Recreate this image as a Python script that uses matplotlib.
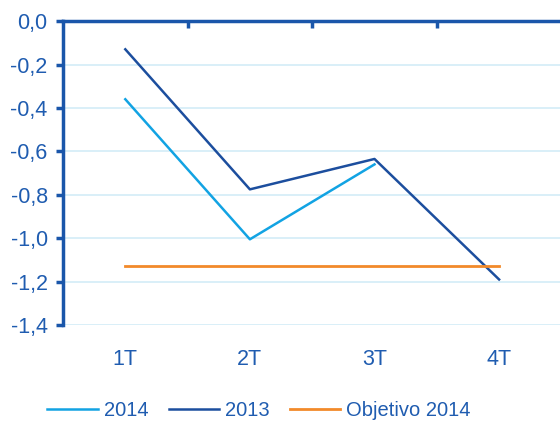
import matplotlib.pyplot as plt

plt.rcParams['font.family'] = ['Liberation Sans', 'DejaVu Sans']

quarters = ['1T', '2T', '3T', '4T']
serie_2014 = [-0.36, -1.005, -0.66]
serie_2013 = [-0.13, -0.775, -0.635, -1.19]
objetivo_2014 = [-1.13, -1.13, -1.13, -1.13]
yticks = [0.0, -0.2, -0.4, -0.6, -0.8, -1.0, -1.2, -1.4]

txt = '#1F5CB0'
axis_col = '#1A56AA'

fig = plt.figure(figsize=(5.6, 4.3), dpi=100)
ax = fig.add_axes([0.1125, 0.244, 0.89, 0.707])

x = list(range(len(quarters)))
ax.plot(x[:len(serie_2014)], serie_2014, color='#12A3E3', lw=1.8, label='2014')
ax.plot(x, serie_2013, color='#1C4E9E', lw=1.8, label='2013')
ax.plot(x, objetivo_2014, color='#F28A2A', lw=2, label='Objetivo 2014')

ax.set_xlim(-0.5, 3.5)
ax.set_ylim(-1.4, 0.0)
ax.set_yticks(yticks)
ax.set_yticklabels([f'{v:.1f}'.replace('.', ',') for v in yticks])
ax.set_xticks(x)
ax.set_xticklabels(quarters)
ax.set_xticks([0.5, 1.5, 2.5], minor=True)

ax.grid(axis='y', color='#D3ECF7', lw=1.2)
ax.set_axisbelow(True)

for s in ['right', 'bottom']:
    ax.spines[s].set_visible(False)
for s in ['left', 'top']:
    ax.spines[s].set_color(axis_col)
    ax.spines[s].set_linewidth(2.5)

ax.tick_params(axis='y', colors=axis_col, labelcolor=txt, labelsize=15.5,
               length=5, width=2.5, direction='out', pad=6)
ax.tick_params(axis='x', which='major', length=0, labelcolor=txt,
               labelsize=15.5, pad=17)
ax.tick_params(axis='x', which='minor', top=True, bottom=False,
               direction='in', length=5, width=2.5, color=axis_col)

leg = fig.legend(loc='lower center', bbox_to_anchor=(0.4625, -0.02), ncol=3,
                 frameon=False, fontsize=14.5, handlelength=2.5,
                 columnspacing=1.0, handletextpad=0.3)
for t in leg.get_texts():
    t.set_color(txt)

plt.savefig('out.png', dpi=100)
